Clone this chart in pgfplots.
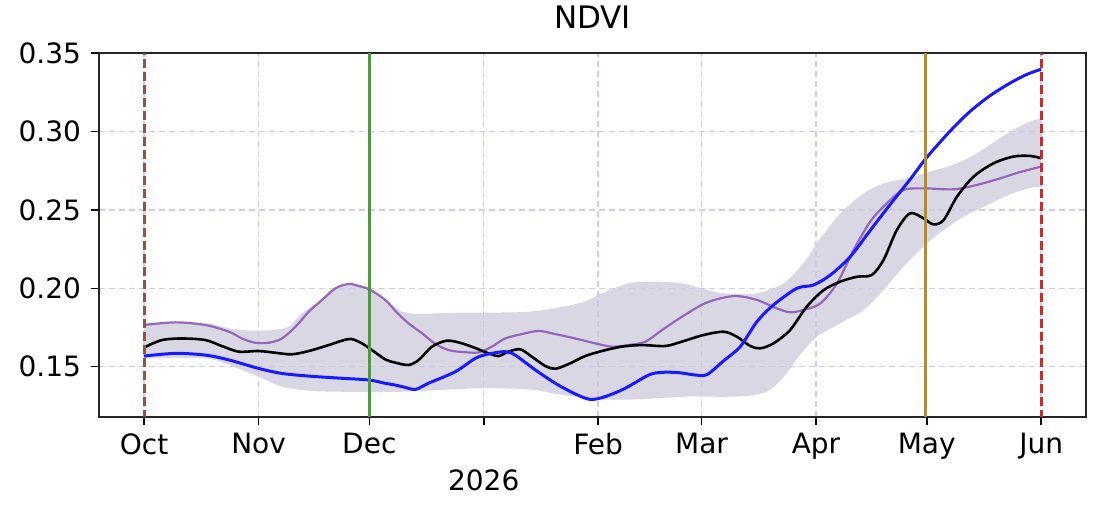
\documentclass[border=0pt]{standalone}
\usepackage{fontspec}
\setmainfont{DejaVu Sans}
\usepackage{pgfplots}
\pgfplotsset{compat=1.18}
\usepgfplotslibrary{fillbetween}
\definecolor{cblue}{RGB}{25,25,255}
\definecolor{cpurple}{RGB}{148,103,189}
\definecolor{cband}{RGB}{205,202,220}
\definecolor{cgrid}{RGB}{208,204,226}
\definecolor{cbrown}{RGB}{140,86,75}
\definecolor{cgreen}{RGB}{70,160,50}
\definecolor{cgold}{RGB}{188,138,30}
\definecolor{cred}{RGB}{214,39,40}
\begin{document}
\begin{tikzpicture}
\begin{axis}[
  at={(0,0)}, anchor=south west,
  scale only axis, width=493.35pt, height=181.85pt,
  xmin=-12.15, xmax=255.15, ymin=0.1179, ymax=0.35,
  xtick={0,31,61,92,123,151,182,212,243},
  xticklabels={Oct,Nov,Dec,{\vphantom{Oct}\\2026},Feb,Mar,Apr,May,Jun},
  xticklabel style={align=center, font=\fontsize{14}{18}\selectfont, inner sep=0pt, anchor=north, yshift=-4pt},
  ytick={0.15,0.20,0.25,0.30,0.35},
  yticklabel style={/pgf/number format/.cd, fixed, fixed zerofill, precision=2, /tikz/.cd, font=\fontsize{14}{17}\selectfont, inner sep=0pt, anchor=east, xshift=-5pt},
  /pgf/number format/assume math mode=true,
  tick align=outside, major tick length=4pt, tick pos=left,
  tick style={black, line width=0.8pt},
  grid=major, grid style={cgrid, line width=0.7pt, dash pattern=on 3pt off 2pt},
  axis line style={line width=0.9pt, black!85},
  title={NDVI}, title style={font=\fontsize{15.5}{18}\selectfont, at={(0.5,1)}, anchor=base, yshift=6.5pt, inner sep=0pt},
]
% band
\addplot[draw=none, smooth, tension=0.5, name path=upper] coordinates {
(0,0.1780) (16.6,0.1777) (23,0.1745) (29,0.1730) (34.6,0.1734) (39.2,0.1755) (42.7,0.1840) (48.2,0.1930) (51.8,0.2003) (55.4,0.2030) (58.1,0.2018) (61,0.1996) (65.3,0.1930) (70,0.1850) (75,0.1838) (86.1,0.1845) (104.2,0.1851) (117.7,0.1904) (124,0.1968) (131.2,0.2032) (138.5,0.2043) (145.7,0.2032) (151,0.2000) (157,0.1968) (166,0.1968) (173.2,0.2032) (178.6,0.2160) (183.2,0.2319) (188.6,0.2479) (194.9,0.2606) (200.3,0.2670) (206.6,0.2702) (213,0.2745) (220.2,0.2798) (225.6,0.2862) (234.6,0.3000) (240,0.3064) (243,0.3085)};
\addplot[draw=none, smooth, tension=0.5, name path=lower] coordinates {
(0,0.1553) (16.6,0.1553) (23,0.1510) (31,0.1436) (37.3,0.1372) (44.6,0.1347) (53.6,0.1340) (70,0.1340) (90.6,0.1362) (104.2,0.1355) (113.2,0.1320) (122.2,0.1292) (131.2,0.1290) (140.3,0.1300) (147.9,0.1310) (157,0.1308) (164,0.1315) (169,0.1345) (173.5,0.1440) (177.5,0.1570) (182.2,0.1691) (188.6,0.1777) (194.9,0.1862) (200.3,0.1989) (205.7,0.2138) (211.1,0.2266) (216.6,0.2372) (222,0.2457) (227.4,0.2520) (234.6,0.2600) (240,0.2640) (243,0.2650)};
\addplot[fill=cband, fill opacity=0.75, draw=none] fill between[of=upper and lower];
% purple
\addplot[cpurple, line width=1.1pt, smooth, tension=0.5] coordinates {
(0,0.1766) (8.5,0.1783) (16.6,0.1766) (23,0.1723) (26.5,0.1680) (30,0.1653) (33.8,0.1653) (37.3,0.1680) (41,0.1755) (44.6,0.1851) (48.2,0.1926) (51.8,0.2000) (55.4,0.2028) (58.1,0.2015) (61,0.1994) (65.3,0.1926) (68.5,0.1845) (71.6,0.1777) (75.3,0.1713) (78.9,0.1645) (82.5,0.1606) (86.1,0.1594) (90.6,0.1591) (94.2,0.1628) (97.8,0.1680) (102.3,0.1708) (106.9,0.1728) (111.4,0.1708) (116.8,0.1680) (122.2,0.1649) (126.7,0.1628) (131.2,0.1638) (135.8,0.1660) (140.3,0.1734) (145.7,0.1819) (151.5,0.1900) (156.1,0.1936) (160.6,0.1951) (166,0.1926) (171.4,0.1872) (175,0.1847) (178.6,0.1862) (183.2,0.1904) (187.7,0.2032) (192.2,0.2245) (196.7,0.2426) (201.2,0.2543) (205.7,0.2628) (211.1,0.2638) (219.3,0.2632) (225.6,0.2660) (231.9,0.2702) (237,0.2740) (243,0.2777)};
% black
\addplot[black, line width=1.3pt, smooth, tension=0.5] coordinates {
(0,0.1623) (4.8,0.1670) (10.3,0.1680) (16.6,0.1670) (21,0.1632) (25.6,0.1596) (31,0.1600) (35.5,0.1589) (40,0.1579) (44.6,0.1600) (50,0.1638) (53.6,0.1666) (56.1,0.1677) (59,0.1649) (61.7,0.1606) (65.3,0.1547) (68,0.1526) (71.6,0.1511) (74.4,0.1543) (78,0.1628) (82,0.1666) (86.1,0.1649) (90.6,0.1611) (93.3,0.1585) (96,0.1568) (98.7,0.1596) (101.9,0.1611) (105,0.1564) (108.7,0.1504) (111.4,0.1487) (115,0.1517) (119.5,0.1568) (124,0.1600) (129.4,0.1628) (134.8,0.1638) (141.2,0.1632) (145.7,0.1660) (151.5,0.1702) (157,0.1723) (160.6,0.1691) (164.2,0.1632) (166.9,0.1617) (170.5,0.1649) (175,0.1734) (179.5,0.1883) (184.1,0.1989) (188.6,0.2043) (193.1,0.2074) (197.1,0.2085) (200.3,0.2181) (203.9,0.2372) (207.5,0.2479) (211.1,0.2447) (213.8,0.2408) (216.6,0.2436) (220.2,0.2585) (224.7,0.2713) (230.1,0.2798) (235.5,0.2841) (240,0.2845) (243,0.2830)};
% blue
\addplot[cblue, line width=1.5pt, smooth, tension=0.5] coordinates {
(0,0.1568) (8.5,0.1585) (16.6,0.1574) (23,0.1543) (31,0.1489) (37.3,0.1457) (44.6,0.1440) (53.6,0.1426) (61,0.1415) (65.3,0.1394) (68,0.1383) (70.7,0.1368) (73.5,0.1355) (77,0.1394) (84.3,0.1468) (89.7,0.1553) (93.3,0.1581) (97.8,0.1596) (100.5,0.1574) (106,0.1479) (111.4,0.1394) (116.8,0.1326) (120.9,0.1291) (124.9,0.1309) (130.3,0.1362) (136.7,0.1447) (140.3,0.1464) (144.8,0.1462) (149.3,0.1447) (152.5,0.1450) (157,0.1538) (161.5,0.1628) (166,0.1787) (170.5,0.1894) (176.8,0.2000) (181.3,0.2021) (185.9,0.2085) (191.3,0.2202) (196.7,0.2370) (202.1,0.2535) (207.5,0.2695) (212,0.2835) (218.4,0.3005) (223.8,0.3130) (229.2,0.3230) (234.6,0.3310) (239.1,0.3365) (243,0.3398)};
% vertical markers
\addplot[cbrown, line width=1.4pt, dash pattern=on 4.5pt off 2pt] coordinates {(0,0.10) (0,0.40)};
\addplot[cgreen, line width=1.5pt] coordinates {(61,0.10) (61,0.40)};
\addplot[cgold, line width=1.5pt] coordinates {(211.8,0.10) (211.8,0.40)};
\addplot[cred, line width=1.5pt, dash pattern=on 4.5pt off 2pt] coordinates {(243,0.10) (243,0.40)};
\end{axis}
\pgfresetboundingbox
\useasboundingbox (-49.65pt,-45.5pt) rectangle (500.35pt,208.5pt);
\end{tikzpicture}
\end{document}
